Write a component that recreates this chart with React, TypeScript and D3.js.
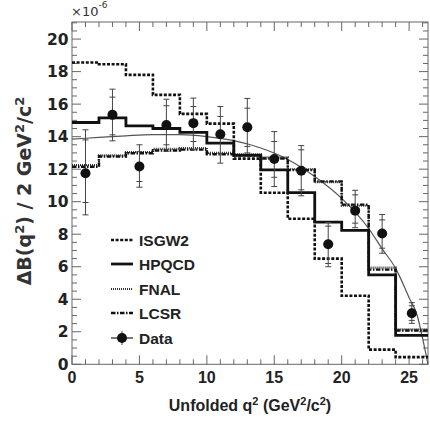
import React from "react";
import * as d3 from "d3";

const binEdges = [0, 2, 4, 6, 8, 10, 12, 14, 16, 18, 20, 22, 24, 26.4];
const isgw2 = [18.56, 18.45, 17.8, 16.57, 15.4, 14.8, 12.65, 10.55, 8.95, 6.5, 4.22, 0.9, 0.44];
const hpqcd = [14.87, 15.15, 14.66, 14.5, 14.26, 13.6, 12.85, 11.96, 10.56, 8.74, 8.24, 5.5, 1.78];
const fnal = [12.25, 12.85, 13.05, 13.25, 13.3, 13.0, 12.92, 12.72, 12.0, 11.2, 9.75, 5.95, 2.15];
const lcsr = [12.15, 12.78, 12.98, 13.15, 13.2, 12.92, 12.85, 12.66, 11.94, 11.25, 9.82, 5.82, 2.08];

const dataQ2 = [1, 3, 5, 7, 9, 11, 13, 15, 17, 19, 21, 23, 25.2];
const dataVal = [11.75, 15.34, 12.16, 14.72, 14.83, 14.15, 14.58, 12.63, 11.9, 7.38, 9.45, 8.04, 3.14];
const dataTotLo = [9.19, 13.74, 10.89, 13.1, 13.19, 12.37, 13.0, 10.93, 10.36, 6.0, 8.4, 6.83, 2.52];
const dataTotHi = [14.42, 16.92, 13.5, 16.3, 16.37, 15.85, 16.35, 14.31, 13.45, 8.72, 10.7, 9.21, 3.79];
const dataStatLo = [9.95, 14.11, 11.24, 13.5, 13.7, 12.98, 13.4, 11.5, 10.73, 6.2, 8.68, 7.14, 2.7];
const dataStatHi = [13.8, 16.43, 13.08, 15.9, 15.85, 15.24, 15.75, 13.7, 13.19, 8.5, 10.42, 8.88, 3.6];

const fitQ2 = [0, 2, 4, 6, 8, 10, 12, 14, 16, 18, 20, 22, 23, 24, 25, 25.6, 26, 26.4];
const fitVal = [13.85, 13.95, 14.05, 14.12, 14.12, 14.0, 13.75, 13.3, 12.6, 11.55, 10.2, 8.35, 7.1, 5.9, 4.1, 3.0, 1.6, 0];

const xMajor = [0, 5, 10, 15, 20, 25];
const yMajor = [0, 2, 4, 6, 8, 10, 12, 14, 16, 18, 20];
const legendNames = ["ISGW2", "HPQCD", "FNAL", "LCSR", "Data"];

const L = 72, R = 428, T = 22, B = 364.3;
const x = d3.scaleLinear().domain([0, 26.4]).range([L, R]);
const y = d3.scaleLinear().domain([0, 21.05]).range([B, T]);

const styles: Record<string, { w: number; dash?: string; color: string }> = {
  ISGW2: { w: 2.6, dash: "3,1.6", color: "#111" },
  HPQCD: { w: 2.8, color: "#111" },
  FNAL: { w: 2.2, dash: "1,1", color: "#333" },
  LCSR: { w: 2.4, dash: "4.5,1.5,1.5,1.5", color: "#111" },
};

function stepPath(vals: number[]) {
  const pts: [number, number][] = binEdges.map((e, i) => [e, vals[Math.min(i, vals.length - 1)]]);
  return d3.line<[number, number]>().x(d => x(d[0])).y(d => y(d[1])).curve(d3.curveStepAfter)(pts) || "";
}

export default function App() {
  const xMinor = d3.range(0, 26.01, 1);
  const yMinor = d3.range(0, 21.01, 0.5);
  const fitPath = d3.line<number>().x((_, i) => x(fitQ2[i])).y(d => y(d)).curve(d3.curveMonotoneX)(fitVal) || "";
  const axisCol = "#666";
  const fontA = "'Liberation Sans', Arial, Helvetica, sans-serif";
  const fontD = "'DejaVu Sans', sans-serif";
  const series: [string, number[]][] = [["ISGW2", isgw2], ["FNAL", fnal], ["LCSR", lcsr], ["HPQCD", hpqcd]];
  const legY = [240, 264, 289, 313, 338];
  const capW = 3;
  return (
    <svg width={430} height={421} style={{ position: "absolute", left: 0, top: 0, background: "#fff" }}>
      <rect x={L} y={T} width={R - L} height={B - T} fill="none" stroke={axisCol} strokeWidth={1} />
      {xMinor.map(v => {
        const major = v % 5 === 0;
        const len = major ? 9 : 5;
        return (
          <g key={"xt" + v} stroke={axisCol} strokeWidth={1}>
            <line x1={x(v)} x2={x(v)} y1={B} y2={B - len} />
            <line x1={x(v)} x2={x(v)} y1={T} y2={T + len} />
          </g>
        );
      })}
      {yMinor.map(v => {
        const major = v % 2 === 0;
        const len = major ? 9 : 5;
        return (
          <g key={"yt" + v} stroke={axisCol} strokeWidth={1}>
            <line x1={L} x2={L + len} y1={y(v)} y2={y(v)} />
            <line x1={R} x2={R - len} y1={y(v)} y2={y(v)} />
          </g>
        );
      })}
      {xMajor.map(v => (
        <text key={"xl" + v} x={x(v)} y={383} textAnchor="middle" fontFamily={fontA} fontWeight="bold" fontSize={16} fill="#222">{v}</text>
      ))}
      {yMajor.map(v => (
        <text key={"yl" + v} x={68.5} y={y(v)} dy="0.36em" textAnchor="end" fontFamily={fontD} fontWeight="bold" fontSize={15.5} fill="#222">{v}</text>
      ))}
      <text x={71} y={16} fontFamily={fontD} fontSize={13} fill="#333">×10<tspan dy={-8} fontSize={9}>-6</tspan></text>
      <text x={250} y={411} textAnchor="middle" fontFamily={fontA} fontWeight="bold" fontSize={16} fill="#222">
        Unfolded q<tspan dy={-6} fontSize={11}>2</tspan><tspan dy={6}> (GeV</tspan><tspan dy={-6} fontSize={11}>2</tspan><tspan dy={6}>/c</tspan><tspan dy={-6} fontSize={11}>2</tspan><tspan dy={6}>)</tspan>
      </text>
      <text transform="translate(31,191) rotate(-90)" textAnchor="middle" fontFamily={fontD} fontWeight="bold" fontSize={19} fill="#333">
        ΔB(q<tspan dy={-7} fontSize={13}>2</tspan><tspan dy={7}>) / 2 GeV</tspan><tspan dy={-7} fontSize={13}>2</tspan><tspan dy={7}>/c</tspan><tspan dy={-7} fontSize={13}>2</tspan>
      </text>
      <path d={fitPath} fill="none" stroke="#555" strokeWidth={1.2} />
      {series.map(([name, vals]) => (
        <path key={name} d={stepPath(vals)} fill="none" stroke={styles[name].color} strokeWidth={styles[name].w} strokeDasharray={styles[name].dash} />
      ))}
      {dataQ2.map((q, i) => (
        <g key={"d" + i} stroke="#444" strokeWidth={1}>
          <line x1={x(q)} x2={x(q)} y1={y(dataTotLo[i])} y2={y(dataTotHi[i])} />
          <line x1={x(q) - capW} x2={x(q) + capW} y1={y(dataTotLo[i])} y2={y(dataTotLo[i])} />
          <line x1={x(q) - capW} x2={x(q) + capW} y1={y(dataTotHi[i])} y2={y(dataTotHi[i])} />
          <line x1={x(q) - capW} x2={x(q) + capW} y1={y(dataStatLo[i])} y2={y(dataStatLo[i])} />
          <line x1={x(q) - capW} x2={x(q) + capW} y1={y(dataStatHi[i])} y2={y(dataStatHi[i])} />
          <circle cx={x(q)} cy={y(dataVal[i])} r={5} fill="#111" stroke="none" />
        </g>
      ))}
      {legendNames.map((n, i) => (
        <g key={"lg" + n}>
          {n !== "Data" ? (
            <line x1={111} x2={133} y1={legY[i]} y2={legY[i]} stroke={styles[n].color} strokeWidth={styles[n].w} strokeDasharray={styles[n].dash} />
          ) : (
            <g>
              <line x1={111} x2={133} y1={legY[i]} y2={legY[i]} stroke="#222" strokeWidth={1.2} />
              <line x1={122} x2={122} y1={legY[i] - 7} y2={legY[i] + 7} stroke="#444" strokeWidth={1} />
              <circle cx={122} cy={legY[i]} r={5} fill="#111" />
            </g>
          )}
          <text x={139} y={legY[i]} dy="0.36em" fontFamily={fontA} fontWeight="bold" fontSize={15.5} fill="#222">{n}</text>
        </g>
      ))}
    </svg>
  );
}
